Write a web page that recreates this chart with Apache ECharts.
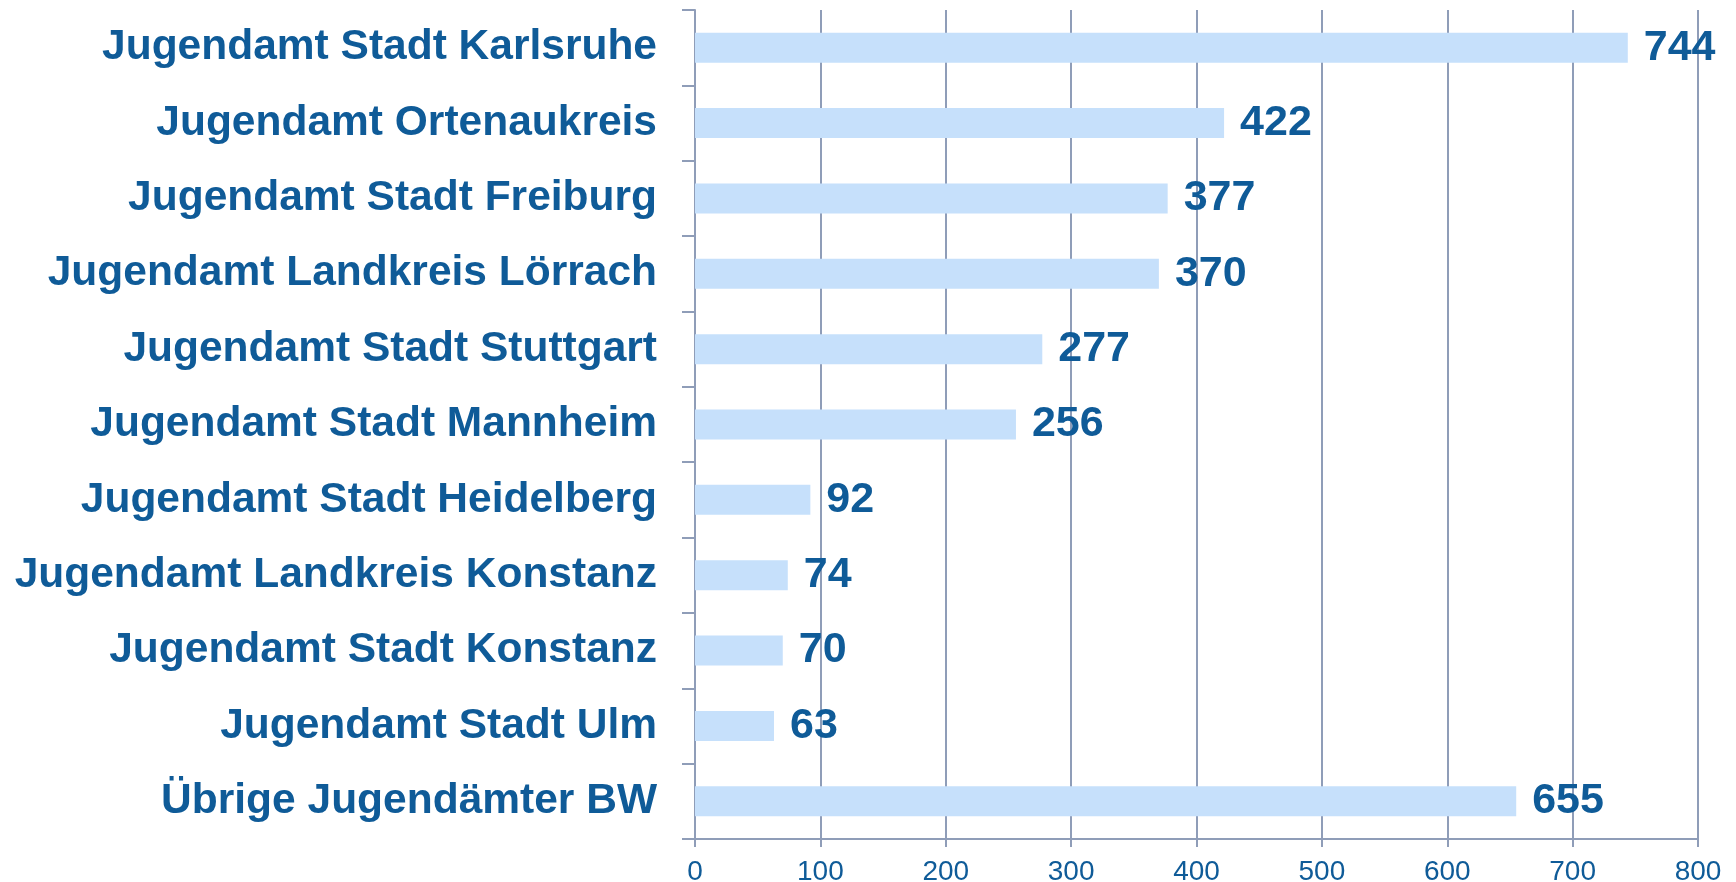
<!DOCTYPE html>
<html>
<head>
<meta charset="utf-8">
<script src="https://cdn.jsdelivr.net/npm/echarts@6/dist/echarts.min.js"></script>
<style>
  html, body { margin: 0; padding: 0; background: #ffffff; }
  #chart { width: 1736px; height: 882px; }
</style>
</head>
<body>
<div id="chart"></div>
<script>
const categories = [
  'Jugendamt Stadt Karlsruhe',
  'Jugendamt Ortenaukreis',
  'Jugendamt Stadt Freiburg',
  'Jugendamt Landkreis Lörrach',
  'Jugendamt Stadt Stuttgart',
  'Jugendamt Stadt Mannheim',
  'Jugendamt Stadt Heidelberg',
  'Jugendamt Landkreis Konstanz',
  'Jugendamt Stadt Konstanz',
  'Jugendamt Stadt Ulm',
  'Übrige Jugendämter BW'
];
const values = [744, 422, 377, 370, 277, 256, 92, 74, 70, 63, 655];
const xTicks = [0, 100, 200, 300, 400, 500, 600, 700, 800];

(function() {
  const chart = echarts.init(document.getElementById('chart'));

  const textBlue = '#0f5b98';
  const lineColor = '#8f9db8';
  const labelFont = '"Liberation Sans", Arial, sans-serif';

  const option = {
    backgroundColor: '#ffffff',
    animation: false,
    grid: {
      left: 695,
      right: 38,
      top: 10,
      bottom: 43,
      containLabel: false,
      outerBoundsMode: 'none'
    },
    xAxis: {
      type: 'value',
      min: xTicks[0],
      max: xTicks[xTicks.length - 1],
      interval: 100,
      axisLine: { show: true, lineStyle: { color: lineColor, width: 2 } },
      axisTick: { show: true, length: 8, lineStyle: { color: lineColor, width: 2 } },
      axisLabel: {
        color: textBlue,
        fontFamily: labelFont,
        fontSize: 28,
        margin: 19
      },
      splitLine: { show: true, lineStyle: { color: lineColor, width: 2 } }
    },
    yAxis: {
      type: 'category',
      data: categories,
      inverse: true,
      axisLine: { show: true, lineStyle: { color: lineColor, width: 2 } },
      axisTick: { show: true, length: 13, lineStyle: { color: lineColor, width: 2 } },
      axisLabel: {
        color: textBlue,
        fontFamily: labelFont,
        fontWeight: 'bold',
        fontSize: 42.5,
        margin: 38,
        padding: [4, 0, 0, 0]
      },
      splitLine: { show: false }
    },
    series: [{
      type: 'bar',
      data: values,
      barWidth: 30,
      itemStyle: { color: '#c6e0fb' },
      label: {
        show: true,
        position: 'right',
        distance: 16,
        color: textBlue,
        fontFamily: labelFont,
        fontWeight: 'bold',
        fontSize: 43,
        padding: [4, 0, 0, 0]
      }
    }]
  };

  chart.setOption(option);
})();
</script>
</body>
</html>
